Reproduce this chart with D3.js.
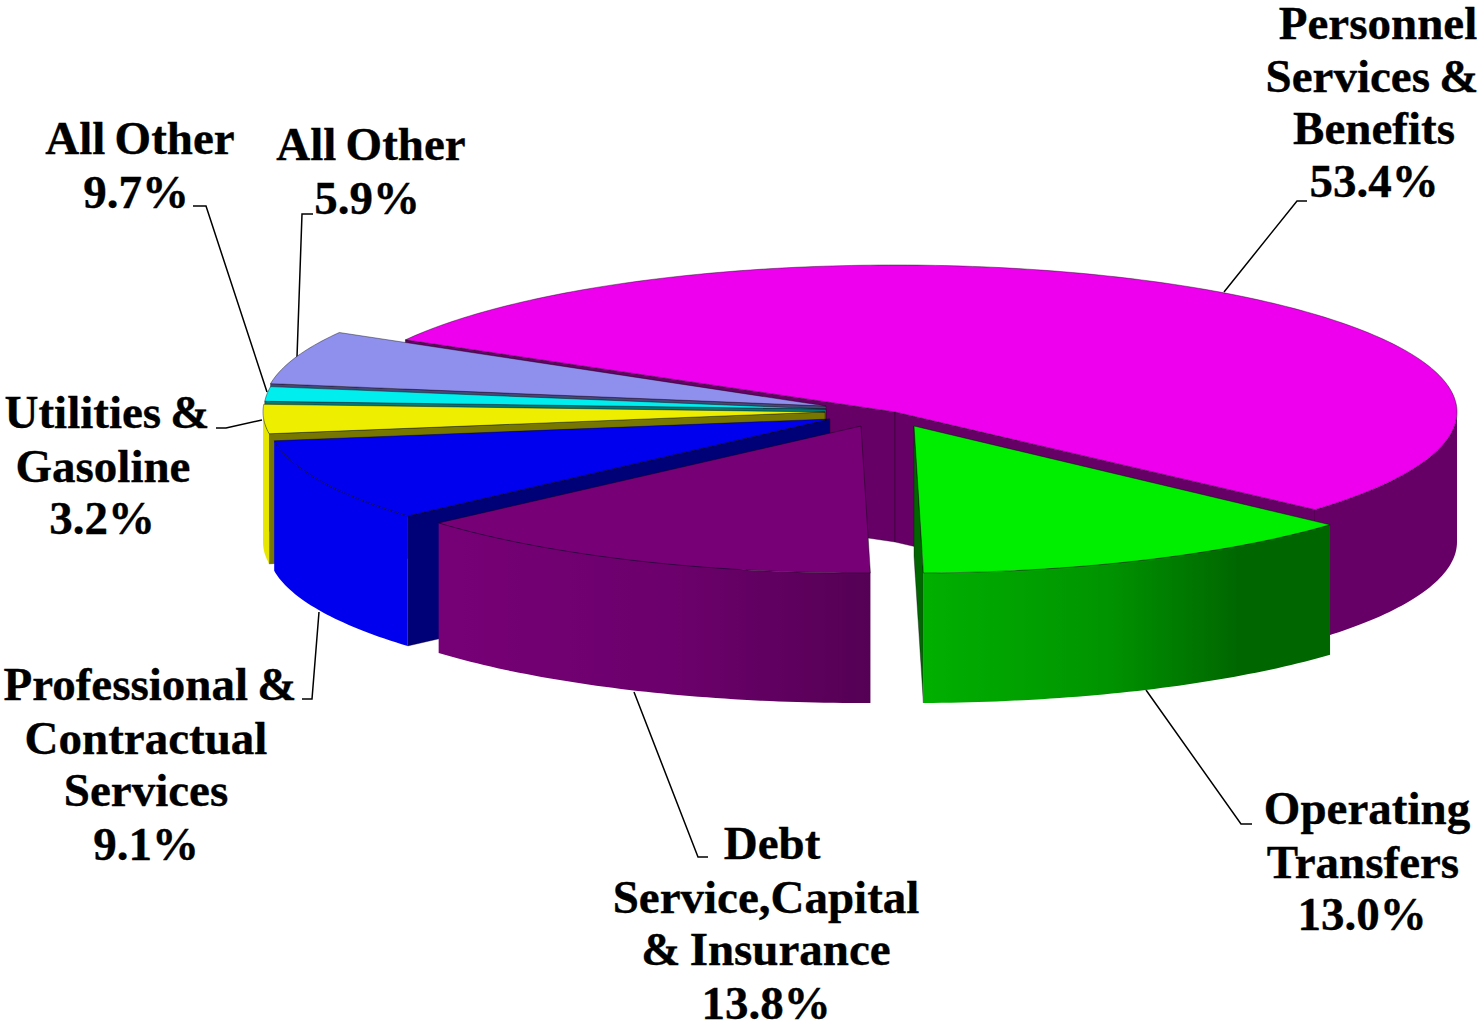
<!DOCTYPE html>
<html>
<head>
<meta charset="utf-8">
<script src="https://cdn.jsdelivr.net/npm/d3@7/dist/d3.min.js"></script>
<style>
html,body{margin:0;padding:0;background:#fff;overflow:hidden}
svg{display:block}
text{font-family:"Liberation Serif",serif;font-weight:bold;fill:#000;stroke:#000;stroke-width:.35px;word-spacing:-2.5px}
</style>
</head>
<body>
<svg id="chart" width="1477" height="1024"></svg>
<script>
// ---- data ----
const categories = ["Personnel Services & Benefits","Operating Transfers","Debt Service,Capital & Insurance","Professional & Contractual Services","Utilities & Gasoline","All Other (narrow)","All Other (wide)"];
// Drawn shares. The printed 9.7% label points at the narrow cyan slice, whose drawn share is about 1.6%.
const sliceShares = [53.4,13.0,13.8,9.1,3.2,1.6,5.9];
const labelTexts = [
  ["Personnel","Services &","Benefits","53.4%"],
  ["Operating","Transfers","13.0%"],
  ["Debt","Service,Capital","& Insurance","13.8%"],
  ["Professional &","Contractual","Services","9.1%"],
  ["Utilities &","Gasoline","3.2%"],
  ["All Other","9.7%"],
  ["All Other","5.9%"]
];

// ---- styles ----
const topColors  = ["#ee00ee","#00ee00","#770077","#0000ee","#eeee00","#00eeee","#8f8fee"];
const faceColors = ["#660066","#006600","#550055","#000077","#777700","#007777","#474777"];
const wallStops  = [
  [["#660066",0],["#660066",1]],
  [["#00b000",0],["#009400",.45],["#006600",.78],["#006600",1]],
  [["#770077",0],["#6c006c",.55],["#550055",1]],
  [["#0000ee",0],["#0000ee",1]],
  [["#e6e600",0],["#e6e600",1]],
  [["#00eeee",0],["#00eeee",1]],
  [["#8f8fee",0],["#8f8fee",1]]
];

// ---- layout ----
const rx = 562, ry = 147, depth = 130;
const apexes = [[895,412],[914,426],[861,426],[830,419],[825,412],[826,409],[826,406]];
const angleNudge = [-0.6,0,0,0,0,0,0];
const drawOrder = [0,6,5,4,3,2,1];
const labelPlacement = [
  {x:[1378,1372,1374,1374],y:[39,92,144,197]},
  {x:[1367,1363,1362],y:[824,878,930]},
  {x:[772,766,766,766],y:[859,913,965,1019]},
  {x:[150,146,146,146],y:[700,754,806,860]},
  {x:[107,103,102],y:[428,482,534]},
  {x:[140,136],y:[154,208]},
  {x:[371,367],y:[160,214]}
];
const leaders = [
  [[1307,201],[1297,201],[1224,292]],
  [[1146,690],[1241,824],[1252,824]],
  [[634,692],[698,857],[708,857]],
  [[319,612],[312,699],[302,699]],
  [[262,420],[226,428],[216,428]],
  [[267,392],[206,206],[193,206]],
  [[297,357],[302,214],[313,214]]
];

const svg = d3.select("#chart");
const defs = svg.append("defs");
const pie = d3.pie().sort(null).value(d=>d)
  .startAngle(-60*Math.PI/180).endAngle(300*Math.PI/180);
const arcs = pie(sliceShares);
const line = d3.line();
const closed = d3.line().curve(d3.curveLinearClosed);

function rim(i,a){const [cx,cy]=apexes[i];return [cx+rx*Math.sin(a),cy-ry*Math.cos(a)];}
function sample(a0,a1){const n=Math.max(2,Math.ceil(Math.abs(a1-a0)*60));return d3.range(n+1).map(k=>a0+(a1-a0)*k/n);}
const drop = p=>[p[0],p[1]+depth];

// leader lines sit behind the pie
svg.append("g").selectAll("path").data(leaders).join("path")
  .attr("d",d=>line(d)).attr("fill","none").attr("stroke","#000").attr("stroke-width",1.5);

const pieG = svg.append("g").attr("stroke-linejoin","round");
drawOrder.forEach(i=>{
  const d=arcs[i], apex=apexes[i];
  const nudge=angleNudge[i]*Math.PI/180;
  const a0=d.startAngle+nudge, a1=d.endAngle+nudge;
  const g=pieG.append("g");
  const edge=a=>rim(i,a);
  const s=edge(a0), e=edge(a1);
  // cut faces: only those that turn toward the viewer
  const faces=[];
  if(Math.sin(a0)<0) faces.push(s);
  if(Math.sin(a1)>0) faces.push(e);
  faces.forEach(p=>{
    g.append("path").attr("d",closed([apex,p,drop(p),drop(apex)]))
      .attr("fill",faceColors[i]).attr("stroke","#1a001a").attr("stroke-opacity",.45).attr("stroke-width",.8);
  });
  // outer wall: only the part facing the viewer
  const lo=Math.max(a0,Math.PI/2), hi=Math.min(a1,Math.PI*1.5);
  if(hi>lo){
    const top=sample(lo,hi).map(edge);
    const id="wall"+i;
    const xs=top.map(p=>p[0]);
    const gr=defs.append("linearGradient").attr("id",id).attr("gradientUnits","userSpaceOnUse")
      .attr("x1",d3.min(xs)).attr("x2",d3.max(xs)).attr("y1",0).attr("y2",0);
    wallStops[i].forEach(([c,o])=>gr.append("stop").attr("offset",o).attr("stop-color",c));
    g.append("path").attr("d",closed(top.concat(top.slice().reverse().map(drop))))
      .attr("fill",`url(#${id})`);
  }
  // top surface
  g.append("path").attr("d",closed([apex].concat(sample(a0,a1).map(edge))))
    .attr("fill",topColors[i]).attr("stroke","#000").attr("stroke-opacity",.5).attr("stroke-width",.8);
});

// labels
const fontSize=47;
labelTexts.forEach((lines,i)=>{
  svg.append("g").selectAll("text").data(lines).join("text")
    .attr("x",(d,k)=>labelPlacement[i].x[k])
    .attr("y",(d,k)=>labelPlacement[i].y[k])
    .attr("text-anchor","middle").attr("font-size",fontSize)
    .text(d=>d);
});
</script>
</body>
</html>
